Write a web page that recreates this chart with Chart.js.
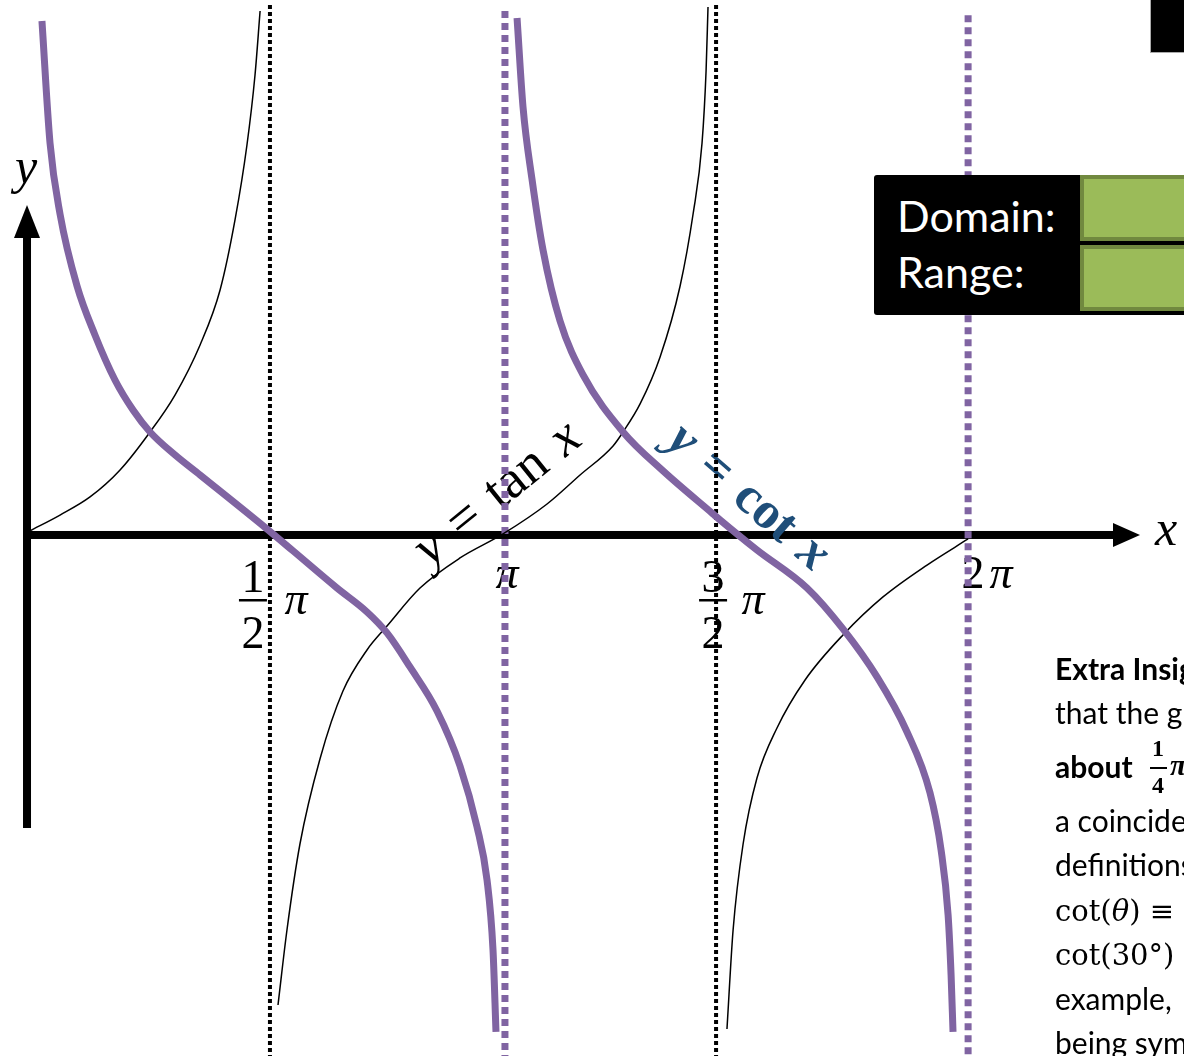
<!DOCTYPE html>
<html>
<head>
<meta charset="utf-8">
<script src="https://cdn.jsdelivr.net/npm/chart.js@4/dist/chart.umd.min.js"></script>
<style>
  body { margin: 0; width: 1184px; height: 1056px; overflow: hidden; background: #fff; position: relative; font-family: Lato, 'Noto Sans', sans-serif; }
  #chart { position: absolute; left: 0; top: 0; }
  .thumb { position: absolute; left: 1150px; top: -2px; width: 40px; height: 53px; background: #000; border: 1px solid #aaa; }
  #dr { position: absolute; left: 874px; top: 175px; width: 330px; height: 140px; background: #000; border-radius: 3px; }
  #dr .lbl { position: absolute; left: 23px; color: #fff; font-size: 43px; line-height: 43px; }
  #dr .gbox { position: absolute; left: 206px; width: 200px; background: #9bbb59; border: 4px solid #71893f; box-sizing: border-box; }
  .note { position: absolute; left: 1055px; font-size: 30px; line-height: 30px; white-space: nowrap; color: #000; }
  .serif { font-family: 'DejaVu Serif', serif; font-size: 29px; }
  .frac { position: absolute; font-family: 'Liberation Serif', serif; font-weight: bold; font-size: 24px; line-height: 24px; text-align: center; width: 16px; }
</style>
</head>
<body>
<canvas id="chart" width="1184" height="1056"></canvas>

<div class="thumb"></div>

<div id="dr">
  <div class="lbl" style="top:19px">Domain:</div>
  <div class="lbl" style="top:75px">Range:</div>
  <div class="gbox" style="top:0px;height:66px"></div>
  <div class="gbox" style="top:70px;height:66px"></div>
</div>

<div class="note" style="top:653px;font-weight:bold">Extra Insight:</div>
<div class="note" style="top:697px">that the graphs</div>
<div class="note" style="top:751px;font-weight:bold">about</div>
<div class="frac" style="left:1150px;top:736px">1</div>
<div style="position:absolute;left:1150px;top:767px;width:17px;height:2px;background:#000"></div>
<div class="frac" style="left:1150px;top:773px">4</div>
<div class="note" style="left:1170px;top:750px;font-family:'Liberation Serif',serif;font-weight:bold;font-style:italic">π</div>
<div class="note" style="top:805px">a coincidence</div>
<div class="note" style="top:849px">definitions</div>
<div class="note serif" style="top:896px">cot(<i>θ</i>) ≡</div>
<div class="note serif" style="top:940px">cot(30°) =</div>
<div class="note" style="top:983px">example,</div>
<div class="note" style="top:1027px">being symmetric</div>

<script>
// branch data (x in radians, y = function value)
const tanX1 = [0, 0.201, 0.402, 0.603, 0.804, 0.971, 1.139, 1.273, 1.373, 1.453, 1.507, 1.541]
const tanY1 = [0.04, 0.190, 0.362, 0.619, 0.981, 1.333, 1.810, 2.333, 3.000, 3.714, 4.381, 4.990]

const tanX2 = [1.661, 1.721, 1.808, 1.942, 2.096, 2.257, 2.391, 2.612, 2.880, 3.168, 3.463, 3.684, 3.905, 3.972, 4.086, 4.220, 4.354, 4.441, 4.501, 4.528, 4.541]
const tanY2 = [-4.476, -3.762, -2.943, -2.133, -1.486, -1.095, -0.867, -0.505, -0.219, 0.010, 0.295, 0.571, 0.848, 0.981, 1.248, 1.695, 2.371, 3.057, 3.733, 4.419, 5.029]

const tanX3 = [4.668, 4.709, 4.776, 4.869, 5.003, 5.191, 5.445, 5.713, 6.008, 6.283]
const tanY3 = [-4.705, -3.762, -2.943, -2.314, -1.838, -1.381, -0.952, -0.590, -0.286, -0.038]

const cotX1 = [0.080, 0.134, 0.201, 0.315, 0.435, 0.569, 0.690, 0.804, 0.971, 1.139, 1.587, 1.762, 2.056, 2.257, 2.391, 2.545, 2.726, 2.880, 2.994, 3.061, 3.101, 3.121]
const cotY1 = [4.895, 3.733, 3.057, 2.371, 1.905, 1.476, 1.190, 0.981, 0.762, 0.571, 0.057, -0.152, -0.505, -0.733, -0.933, -1.257, -1.676, -2.200, -2.781, -3.286, -3.952, -4.733]

const cotX2 = [3.262, 3.302, 3.362, 3.436, 3.550, 3.704, 3.972, 4.240, 4.575, 4.622, 4.869, 5.204, 5.445, 5.673, 5.874, 6.028, 6.102, 6.149, 6.169, 6.182]
const cotY2 = [4.924, 4.076, 3.390, 2.714, 2.038, 1.524, 0.981, 0.610, 0.200, 0.143, -0.143, -0.505, -0.895, -1.352, -1.876, -2.457, -3.000, -3.619, -4.190, -4.733]

// asymptotes: tan (black dotted) and cot (purple dotted)
const tanAsymptotes = [1.607, 4.595]
const cotAsymptotes = [3.181, 6.283]
const tanAsymTop = [5.048, 5.048]
const cotAsymTop = [4.99, 4.95]

const tickLabels = ['1/2', 'π', '3/2', '2π']
const tickValues = [1.607, 3.181, 4.595, 6.283]

const purple = '#8064a2'
const serif = "'Liberation Serif', 'DejaVu Serif', serif"

function curve(xs, ys, color, width) {
    return {
        data: xs.map((x, i) => ({ x, y: ys[i] })),
        borderColor: color,
        borderWidth: width,
        showLine: true,
        pointRadius: 0,
        cubicInterpolationMode: 'monotone',
        fill: false
    }
}

function vline(x, top, color, width, dash) {
    return {
        data: [{ x, y: top }, { x, y: -5.2 }],
        borderColor: color,
        borderWidth: width,
        borderDash: dash,
        showLine: true,
        pointRadius: 0,
        tension: 0
    }
}

function richText(ctx, parts, size, cx, cy, angle, color) {
    let total = 0
    parts.forEach(p => {
        ctx.font = p[1] + ' ' + size + 'px ' + serif
        total += ctx.measureText(p[0]).width
    })
    ctx.save()
    ctx.translate(cx, cy)
    ctx.rotate(angle * Math.PI / 180)
    ctx.fillStyle = color
    ctx.textBaseline = 'middle'
    ctx.textAlign = 'left'
    let pos = -total / 2
    parts.forEach(p => {
        ctx.font = p[1] + ' ' + size + 'px ' + serif
        ctx.fillText(p[0], pos, 0)
        pos += ctx.measureText(p[0]).width
    })
    ctx.restore()
}

function fraction(ctx, num, den, cx, barY) {
    ctx.font = '46px ' + serif
    ctx.textAlign = 'center'
    ctx.textBaseline = 'alphabetic'
    ctx.fillText(num, cx, barY - 8)
    ctx.fillText(den, cx, barY + 48)
    ctx.fillRect(cx - 14, barY - 1, 28, 2.5)
}

const decor = {
    id: 'decor',
    beforeDatasetsDraw(chart) {
        const { ctx, scales: { x, y } } = chart
        const x0 = x.getPixelForValue(0)
        const y0 = y.getPixelForValue(0)
        ctx.save()
        ctx.fillStyle = '#000'

        // x axis with arrow
        const xTip = 1140
        ctx.fillRect(x0 - 7, y0 - 4, xTip - 24 - (x0 - 7), 8)
        ctx.beginPath()
        ctx.moveTo(xTip, y0)
        ctx.lineTo(xTip - 27, y0 - 12)
        ctx.lineTo(xTip - 27, y0 + 12)
        ctx.closePath()
        ctx.fill()

        // y axis with arrow
        const yTip = 205
        ctx.fillRect(x0 - 7, yTip + 28, 8, 828 - yTip - 28)
        ctx.beginPath()
        ctx.moveTo(x0 - 3, yTip)
        ctx.lineTo(x0 - 16, yTip + 33)
        ctx.lineTo(x0 + 10, yTip + 33)
        ctx.closePath()
        ctx.fill()

        // axis names
        ctx.font = 'italic 50px ' + serif
        ctx.textAlign = 'center'
        ctx.textBaseline = 'middle'
        ctx.fillText('y', 26, 170)
        ctx.fillText('x', 1166, 532)

        // tick labels
        const p = tickValues.map(v => x.getPixelForValue(v))
        fraction(ctx, '1', '2', p[0] - 17, 600)
        ctx.font = 'italic 46px ' + serif
        ctx.textBaseline = 'alphabetic'
        ctx.fillText('π', p[0] + 26, 614)
        ctx.fillText(tickLabels[1], p[1] + 2, 588)
        fraction(ctx, '3', '2', p[2] - 3, 600)
        ctx.font = 'italic 46px ' + serif
        ctx.fillText('π', p[2] + 37, 614)
        ctx.font = '46px ' + serif
        ctx.fillText('2', p[3] + 5, 588)
        ctx.font = 'italic 46px ' + serif
        ctx.fillText('π', p[3] + 33, 588)

        // curve names
        const sp = '\u2004'
        richText(ctx, [['y', 'italic'], [sp + '=' + sp, ''], ['tan', ''], [sp, ''], ['x', 'italic']], 54, 498, 494, -39, '#000')
        richText(ctx, [['y', 'bold italic'], [sp + '=' + sp, 'bold'], ['cot', 'bold'], [sp, 'bold'], ['x', 'bold italic']], 52, 748, 498, 41, '#1f4e79')
        ctx.restore()
    }
}

const datasets = [
    { ...curve(cotX1, cotY1, purple, 7), order: 1 },
    { ...curve(cotX2, cotY2, purple, 7), order: 1 },
    { ...curve(tanX1, tanY1, '#000', 1.5), order: 2 },
    { ...curve(tanX2, tanY2, '#000', 1.5), order: 2 },
    { ...curve(tanX3, tanY3, '#000', 1.5), order: 2 },
    { ...vline(tanAsymptotes[0], tanAsymTop[0], '#000', 4, [4, 3]), order: 3 },
    { ...vline(tanAsymptotes[1], tanAsymTop[1], '#000', 4, [4, 3]), order: 3 },
    { ...vline(cotAsymptotes[0], cotAsymTop[0], purple, 7, [7, 5]), order: 3 },
    { ...vline(cotAsymptotes[1], cotAsymTop[1], purple, 7, [7, 5]), order: 3 }
]

new Chart('chart', {
    type: 'scatter',
    data: { datasets },
    options: {
        responsive: false,
        animation: false,
        layout: { padding: 0 },
        plugins: { legend: { display: false }, tooltip: { enabled: false } },
        scales: {
            x: { type: 'linear', min: -0.201, max: 7.729, display: false },
            y: { type: 'linear', min: -4.962, max: 5.095, display: false }
        }
    },
    plugins: [decor]
})
</script>
</body>
</html>
